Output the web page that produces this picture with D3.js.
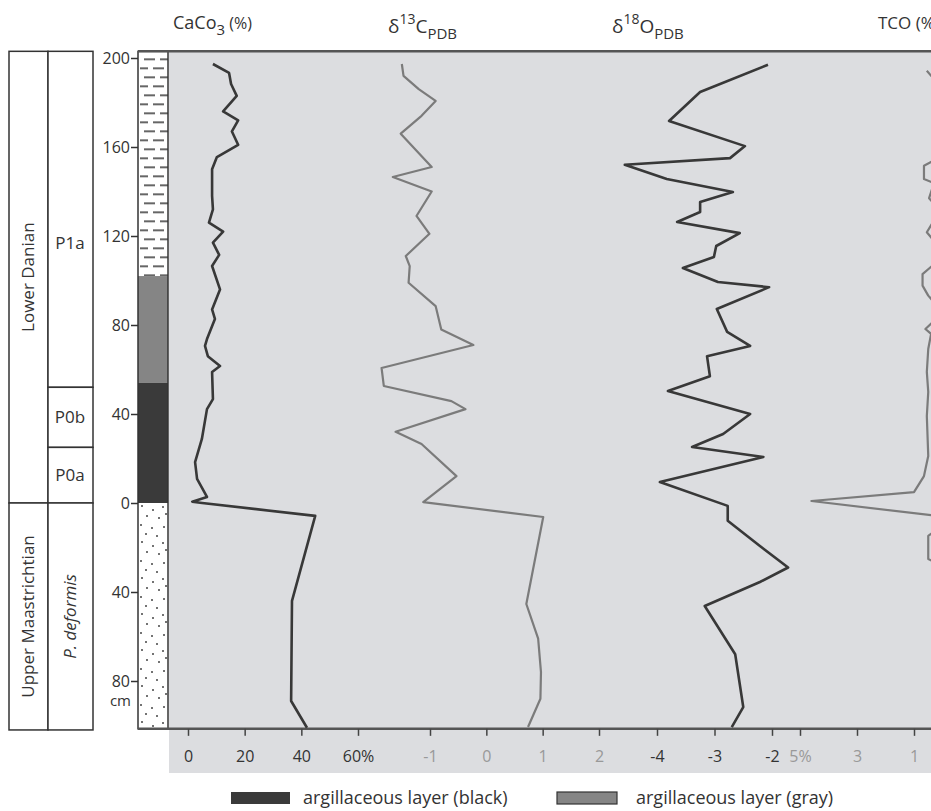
<!DOCTYPE html>
<meta charset="utf-8">
<script src="https://cdn.jsdelivr.net/npm/d3@7"></script>
<style>
body { margin: 0; background: #fff; }
text { font-family: "Open Sans", sans-serif; }
</style>
<body>
<script>
// depth (cm, negative = below boundary), value
var caco3 = [[197.3,8.8],[193.3,14.5],[188.3,15.2],[183,17.2],[176,12.4],[172,17.7],[167,15.5],[161,17.7],
  [155.5,10.2],[150,8.5],[138,8.5],[132,8.8],[126,7.4],[122,12.4],[117,8.8],[111.5,11],[106.5,8.5],[96,11.3],
  [87,8.5],[82.7,9.5],[73.7,6.7],[70.6,6],[66,7],[61.6,11.3],[58.9,8.5],[46.7,8.8],[42.2,6.7],[28.8,4.9],
  [18.4,2.5],[10.8,3.2],[2.7,6.7],[0.6,1.5],[0,5],[-5.8,44.9],[-44,36.7],[-89,36.4],[-101,42]];
var d13c = [[197.3,-1.5],[192,-1.47],[186,-1.2],[180.7,-0.9],[174,-1.15],[166,-1.52],[151,-0.97],[146.5,-1.66],
  [140,-0.97],[129,-1.24],[121,-1.01],[111,-1.43],[106.5,-1.36],[99,-1.38],[88.5,-0.9],[78,-0.8],[71,-0.23],
  [60.7,-1.86],[52.6,-1.82],[45.8,-0.62],[42.2,-0.37],[32,-1.61],[26.5,-1.15],[12.1,-0.53],[0.4,-1.12],
  [-6.3,1.01],[-45.4,0.71],[-61,0.92],[-76,0.97],[-88,0.96],[-100.7,0.74]];
var d18o = [[197,-2.07],[184.7,-3.25],[171.7,-3.79],[160.4,-2.47],[155,-2.73],[152,-4.56],[145.6,-3.83],
  [139.8,-2.68],[135.3,-3.25],[130.8,-3.25],[126.3,-3.65],[121.3,-2.56],[115.5,-2.97],[110.6,-3.01],
  [105.6,-3.55],[99.3,-2.94],[97,-2.05],[87.2,-2.96],[76.9,-2.78],[70.6,-2.38],[66,-3.13],[57,-3.08],
  [50.3,-3.81],[40,-2.38],[31,-2.85],[25.2,-3.39],[20.7,-2.15],[9.4,-3.95],[-1.3,-2.77],[-8,-2.77],
  [-19.3,-2.21],[-29,-1.72],[-35.5,-2.21],[-46.3,-3.17],[-68,-2.64],[-91.7,-2.5],[-100.7,-2.7]];
var tco = [[194.3,0.55],[189,0.2],[153.9,0.3],[151.6,0.65],[145.6,0.65],[143.8,0.3],[137,0.47],[133,0.2],
  [126.9,0.3],[121.7,0.55],[117.9,0.3],[106.7,0.35],[102.9,0.7],[97.7,0.7],[93.2,0.5],[90.3,0.3],[81.2,0.35],
  [78.2,0.6],[76,0.4],[69.2,0.5],[58.9,0.55],[49.9,0.5],[39.1,0.55],[21.1,0.5],[12.1,0.65],[4.9,1.0],
  [0.9,4.6],[-5.8,0.2],[-12,0.2],[-14.8,0.5],[-25.2,0.5],[-27,0.2]];

var depthTicks = [200, 160, 120, 80, 40, 0, -40, -80];
var caTicks = [0, 20, 40, 60], cTicks = [-1, 0, 1, 2], oTicks = [-4, -3, -2], tTicks = [5, 3, 1];

// stratigraphic boxes: [top, bottom] in cm
var stages = [{name: "Lower Danian", top: 203, bottom: 0}, {name: "Upper Maastrichtian", top: 0, bottom: -102}];
var zones = [{name: "P1a", top: 203, bottom: 52}, {name: "P0b", top: 52, bottom: 25},
  {name: "P0a", top: 25, bottom: 0}, {name: "P. deformis", top: 0, bottom: -102, italic: true}];
var litho = [{top: 203, bottom: 102, fill: "url(#dash)"}, {top: 102, bottom: 54, fill: "#858585"},
  {top: 54, bottom: 0, fill: "#3a3a3a"}, {top: 0, bottom: -102, fill: "url(#dots)"}];

var w = 931, h = 811;
var svg = d3.select("body").append("svg").attr("width", w).attr("height", h);

var y = d3.scaleLinear().domain([200, -80]).range([58, 681]);
var xCa = d3.scaleLinear().domain([0, 60]).range([188, 358]);
var xC = d3.scaleLinear().domain([-1, 2]).range([430, 599]);
var xO = d3.scaleLinear().domain([-4, -2]).range([657, 772]);
var xT = d3.scaleLinear().domain([5, 1]).range([800, 914]);

var topY = y(203), axisY = y(-101.5);

// patterns
var defs = svg.append("defs");
var dash = defs.append("pattern").attr("id", "dash").attr("patternUnits", "userSpaceOnUse")
  .attr("x", 138).attr("y", topY + 3).attr("width", 30).attr("height", 18);
dash.append("rect").attr("width", 30).attr("height", 18).attr("fill", "#fff");
[[6, 17, 5], [22, 30, 5], [2, 10, 14], [15, 26, 14]].forEach(function(d) {
  dash.append("line").attr("x1", d[0]).attr("x2", d[1]).attr("y1", d[2]).attr("y2", d[2])
    .attr("stroke", "#333").attr("stroke-width", 1.5);
});
var dots = defs.append("pattern").attr("id", "dots").attr("patternUnits", "userSpaceOnUse")
  .attr("x", 138).attr("y", y(0)).attr("width", 30).attr("height", 36);
dots.append("rect").attr("width", 30).attr("height", 36).attr("fill", "#fff");
[[4,3],[15,7],[25,4],[9,13],[21,15],[3,22],[14,25],[26,24],[8,31],[19,33],[28,11]].forEach(function(d) {
  dots.append("circle").attr("cx", d[0]).attr("cy", d[1]).attr("r", 1).attr("fill", "#444");
});

// grey panel
svg.append("rect").attr("x", 169).attr("y", topY).attr("width", w - 169).attr("height", 773 - topY)
  .attr("fill", "#dcdde0");

// left stratigraphy boxes
var boxes = svg.append("g");
stages.forEach(function(s) {
  boxes.append("rect").attr("x", 9).attr("y", y(s.top)).attr("width", 39).attr("height", y(s.bottom) - y(s.top))
    .attr("fill", "#fff").attr("stroke", "#333").attr("stroke-width", 1.5);
  var cy = (y(s.top) + y(s.bottom)) / 2;
  boxes.append("text").attr("transform", "translate(34," + cy + ") rotate(-90)")
    .attr("text-anchor", "middle").attr("font-size", 17).attr("fill", "#333").text(s.name);
});
zones.forEach(function(z) {
  boxes.append("rect").attr("x", 48).attr("y", y(z.top)).attr("width", 45).attr("height", y(z.bottom) - y(z.top))
    .attr("fill", "#fff").attr("stroke", "#333").attr("stroke-width", 1.5);
  var cy = (y(z.top) + y(z.bottom)) / 2;
  if (z.italic) {
    boxes.append("text").attr("transform", "translate(76," + cy + ") rotate(-90)")
      .attr("text-anchor", "middle").attr("font-size", 17).attr("font-style", "italic").attr("fill", "#333").text(z.name);
  } else {
    boxes.append("text").attr("x", 70).attr("y", (z.name == "P1a" ? 243 : cy) + 6)
      .attr("text-anchor", "middle").attr("font-size", 17).attr("fill", "#333").text(z.name);
  }
});

// lithology column
svg.selectAll(".litho").data(litho).enter().append("rect")
  .attr("x", 138).attr("width", 30)
  .attr("y", function(d) { return y(d.top); })
  .attr("height", function(d) { return y(d.bottom) - y(d.top); })
  .attr("fill", function(d) { return d.fill; });
svg.append("rect").attr("x", 138).attr("y", topY).attr("width", 30).attr("height", axisY - topY)
  .attr("fill", "none").attr("stroke", "#333").attr("stroke-width", 1.5);

// depth axis
var dAxis = svg.append("g").attr("transform", "translate(138,0)")
  .call(d3.axisLeft(y).tickValues(depthTicks).tickSize(7).tickPadding(1).tickFormat(function(d) { return Math.abs(d); }));
dAxis.select(".domain").remove();
dAxis.selectAll("line").attr("stroke", "#333").attr("stroke-width", 1.5);
dAxis.selectAll("text").attr("font-size", 16).attr("fill", "#333").attr("font-family", "Open Sans");
svg.append("text").attr("x", 131).attr("y", 706).attr("text-anchor", "end").attr("font-size", 15).attr("fill", "#333").text("cm");

// top and bottom lines
svg.append("line").attr("x1", 138).attr("x2", w).attr("y1", topY).attr("y2", topY).attr("stroke", "#555").attr("stroke-width", 2.5);
svg.append("line").attr("x1", 138).attr("x2", w).attr("y1", axisY).attr("y2", axisY).attr("stroke", "#555").attr("stroke-width", 2.5);

// bottom axes
function bottomAxis(scale, ticks, fmt, color) {
  var g = svg.append("g").attr("transform", "translate(0," + axisY + ")")
    .call(d3.axisBottom(scale).tickValues(ticks).tickSize(7).tickPadding(15).tickFormat(fmt));
  g.select(".domain").remove();
  g.selectAll("line").attr("stroke", "#444").attr("stroke-width", 1.5);
  g.selectAll("text").attr("font-size", 16).attr("fill", color).attr("font-family", "Open Sans");
}
bottomAxis(xCa, caTicks, function(d) { return d == 60 ? "60%" : d; }, "#333");
bottomAxis(xC, cTicks, function(d) { return d; }, "#999");
bottomAxis(xO, oTicks, function(d) { return d; }, "#333");
bottomAxis(xT, tTicks, function(d) { return d == 5 ? "5%" : d; }, "#999");

// curves
function curve(data, xs, color, width) {
  svg.append("path").datum(data)
    .attr("d", d3.line().x(function(d) { return xs(d[1]); }).y(function(d) { return y(d[0]); }))
    .attr("fill", "none").attr("stroke", color).attr("stroke-width", width).attr("stroke-linejoin", "round");
}
curve(caco3, xCa, "#383838", 2.6);
curve(d13c, xC, "#7b7b7b", 2.2);
curve(d18o, xO, "#383838", 2.6);
curve(tco, xT, "#7b7b7b", 2.2);

// headers
var hd = svg.append("g").attr("fill", "#333");
var t1 = hd.append("text").attr("x", 173).attr("y", 29).attr("font-size", 18);
t1.append("tspan").text("CaCo");
t1.append("tspan").attr("font-size", 15).attr("dy", 6).text("3");
t1.append("tspan").attr("font-size", 16).attr("dy", -6).text(" (%)");

function delta(x, sup, letter) {
  var t = hd.append("text").attr("x", x).attr("y", 33).attr("font-size", 19);
  t.append("tspan").text("\u03b4");
  t.append("tspan").attr("font-size", 14).attr("dy", -9).text(sup);
  t.append("tspan").attr("dy", 9).text(letter);
  t.append("tspan").attr("font-size", 15).attr("dy", 6).text("PDB");
}
delta(388, "13", "C");
delta(612, "18", "O");
hd.append("text").attr("x", 878).attr("y", 29).attr("font-size", 17).text("TCO (%)");

// legend
svg.append("rect").attr("x", 231).attr("y", 792).attr("width", 59).attr("height", 12).attr("fill", "#3a3a3a");
svg.append("text").attr("x", 303).attr("y", 804).attr("font-size", 18).attr("fill", "#333").text("argillaceous layer (black)");
svg.append("rect").attr("x", 557).attr("y", 792).attr("width", 60).attr("height", 12).attr("fill", "#858585")
  .attr("stroke", "#333").attr("stroke-width", 1.2);
svg.append("text").attr("x", 636).attr("y", 804).attr("font-size", 18).attr("fill", "#333").text("argillaceous layer (gray)");
</script>
</body>
